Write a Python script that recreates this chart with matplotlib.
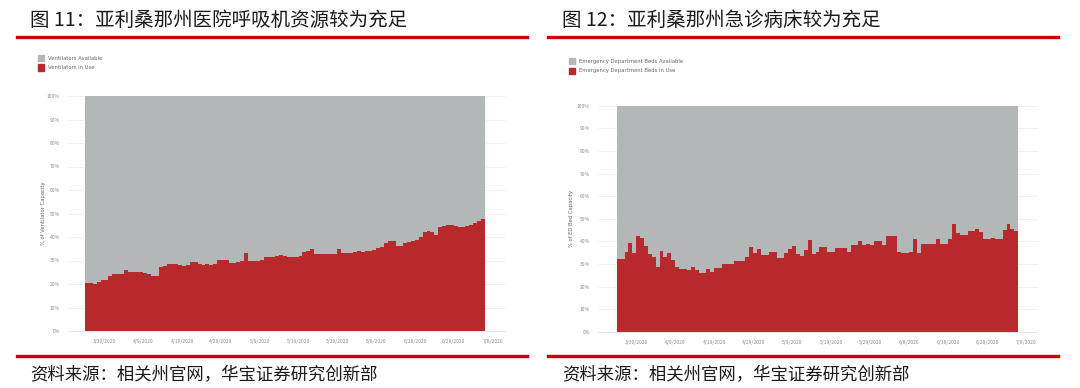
import numpy as np
import pandas as pd
import matplotlib
matplotlib.use("Agg")
import matplotlib.pyplot as plt
from matplotlib.lines import Line2D
from matplotlib.patches import Rectangle

plt.rcParams['font.family'] = ['Noto Sans CJK SC', 'DejaVu Sans']

# data: share of capacity in use (%), one value per day from 3/25/2020
start_date = "2020-03-25"
vent_in_use = [20.4, 20.3, 20.2, 20.9, 21.6, 21.8, 23.2, 24.2, 24.4, 24.3,
               26.0, 25.1, 25.1, 25.2, 25.0, 24.5, 24.3, 23.6, 23.4, 27.2,
               27.8, 28.5, 28.7, 28.4, 27.9, 27.7, 27.9, 29.2, 29.4, 28.4,
               28.2, 28.3, 28.2, 28.5, 30.0, 30.3, 30.1, 29.0, 28.8, 29.3,
               29.7, 33.0, 29.8, 29.6, 29.7, 30.0, 31.5, 31.7, 31.6, 32.0,
               32.2, 32.1, 31.7, 31.5, 31.6, 31.8, 33.6, 33.9, 34.9, 32.9,
               32.8, 32.6, 32.7, 32.7, 32.8, 34.8, 33.1, 33.2, 33.3, 33.7,
               33.9, 33.8, 34.0, 34.2, 34.4, 35.4, 35.6, 37.6, 38.2, 38.3,
               36.0, 36.2, 37.6, 37.9, 38.2, 38.6, 40.2, 42.2, 42.4, 42.1,
               40.9, 44.3, 44.5, 45.2, 45.0, 44.6, 44.4, 44.4, 44.6, 45.3,
               46.0, 46.8, 47.6]
ed_in_use = [32.2, 32.2, 35.5, 39.4, 34.7, 42.5, 41.4, 38.0, 34.3, 33.1,
             28.6, 35.9, 33.1, 35.0, 31.9, 28.6, 27.9, 27.9, 27.2, 28.9,
             27.2, 25.9, 25.9, 27.7, 26.6, 28.1, 28.1, 30.0, 30.0, 30.0,
             31.3, 31.3, 31.3, 33.1, 37.5, 34.7, 36.5, 34.0, 34.0, 35.2,
             35.2, 32.5, 32.5, 34.7, 36.5, 38.0, 34.3, 33.6, 36.2, 40.6,
             34.3, 35.2, 37.4, 37.4, 35.3, 35.3, 37.2, 37.2, 37.2, 35.3,
             38.3, 38.3, 40.4, 38.3, 39.1, 38.4, 40.2, 40.2, 38.4, 42.5,
             42.5, 42.5, 35.4, 34.7, 34.7, 35.4, 41.3, 34.7, 38.8, 39.1,
             39.1, 39.1, 41.3, 38.8, 38.8, 41.3, 47.7, 43.9, 42.9, 42.9,
             44.7, 44.7, 45.6, 44.3, 41.3, 41.3, 41.7, 41.3, 41.3, 45.0,
             47.7, 45.3, 44.6]
tick_dates = ["3/30/2020", "4/9/2020", "4/19/2020", "4/29/2020", "5/9/2020",
              "5/19/2020", "5/29/2020", "6/8/2020", "6/18/2020", "6/28/2020",
              "7/8/2020"]
y_ticks = [0, 10, 20, 30, 40, 50, 60, 70, 80, 90, 100]

titles = ["图 11：亚利桑那州医院呼吸机资源较为充足", "图 12：亚利桑那州急诊病床较为充足"]
source = "资料来源：相关州官网，华宝证券研究创新部"
legend_labels = [["Ventilators Available", "Ventilators in Use"],
                 ["Emergency Department Beds Available", "Emergency Department Beds in Use"]]
ylabels = ["% of Ventilator Capacity", "% of ED Bed Capacity"]

RED = "#B8292B"
GRAY = "#B4B7B8"
RULE = "#CC0000"
W, H = 1080, 388

fig = plt.figure(figsize=(W / 100, H / 100), dpi=100)


def fx(px):
    return px / W


def fy(py):
    return 1 - py / H


def panel(vals, x0, x1, y_bot, y_top, lim0, lim1, title, tx, rule0, rule1,
          legs, leg_x, leg_y, ylab, ylab_x):
    ax = fig.add_axes([fx(x0), fy(y_bot), fx(x1 - x0), fy(y_top) - fy(y_bot)])
    start = pd.Timestamp(start_date)
    x = pd.date_range(start, periods=len(vals) + 1)
    v = np.append(vals, vals[-1])
    ax.fill_between(x, 0, v, step="post", color=RED, lw=0)
    ax.fill_between(x, v, 100, step="post", color=GRAY, lw=0)
    ax.set_xlim(start + pd.Timedelta(days=lim0), start + pd.Timedelta(days=lim1))
    ax.set_ylim(0, 100)
    ax.set_yticks(y_ticks)
    ax.set_yticklabels([f"{t}%" for t in y_ticks])
    ax.set_xticks([pd.Timestamp(d) for d in tick_dates])
    ax.set_xticklabels(tick_dates)
    ax.tick_params(length=0, labelsize=3.6, colors="#8a8a8a", pad=6)
    for s in ax.spines.values():
        s.set_visible(False)
    ax.grid(axis="y", color="#EEEEEE", lw=0.6, zorder=0)
    ax.set_axisbelow(True)
    for gl in ax.get_ygridlines():
        gl.set_clip_on(False)
    ax.axhline(0, color="#E6E6E6", lw=0.6, clip_on=False)
    fig.text(fx(ylab_x), (fy(y_bot) + fy(y_top)) / 2, ylab, rotation=90,
             ha="center", va="center", fontsize=3.8, color="#666666",
             family="DejaVu Sans")

    # title and rules
    fig.text(fx(tx), fy(20), title, fontsize=14, va="center", ha="left",
             color="#1a1a1a")
    fig.add_artist(Line2D([fx(rule0), fx(rule1)], [fy(37), fy(37)],
                          color=RULE, lw=2.4))
    fig.add_artist(Line2D([fx(rule0), fx(rule1)], [fy(356), fy(356)],
                          color=RULE, lw=2.4))
    fig.text(fx(tx), fy(375), source, fontsize=12.5, va="center", ha="left",
             color="#1a1a1a")

    # legend
    for k, (lab, col) in enumerate(zip(legs, [GRAY, RED])):
        yy = leg_y + k * 9.5
        fig.add_artist(Rectangle((fx(leg_x), fy(yy + 3)), fx(6), fy(yy - 3) - fy(yy + 3),
                                 color=col, transform=fig.transFigure))
        fig.text(fx(leg_x + 10), fy(yy), lab, fontsize=3.8, va="center",
                 ha="left", color="#666666", family="DejaVu Sans")
    return ax


panel(vent_in_use, 68, 505, 331, 96, -4.4, 108.2, titles[0], 30, 17, 527,
      legend_labels[0], 38, 58, ylabels[0], 44)
panel(ed_in_use, 598, 1037, 332, 105.7, -4.8, 107.8, titles[1], 562, 548, 1058,
      legend_labels[1], 569, 61, ylabels[1], 572)

fig.savefig("out.png", dpi=100)
